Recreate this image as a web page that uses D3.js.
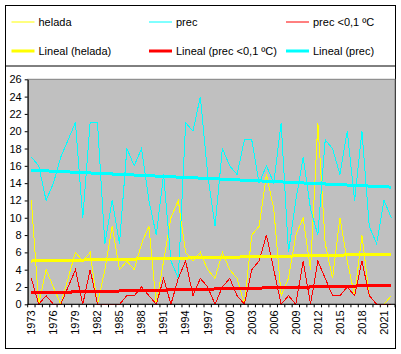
<!DOCTYPE html>
<html lang="es">
<head>
<meta charset="UTF-8">
<title>helada / prec</title>
<script src="https://d3js.org/d3.v7.min.js"></script>
<style>
  body { margin: 0; background: #fff; }
  text { font-family: "Liberation Sans", Arial, sans-serif; font-size: 11px; fill: #000; }
</style>
</head>
<body>
<script>
    const width = 401;
    const height = 354;

    // data
    const years = [1973,1974,1975,1976,1977,1978,1979,1980,1981,1982,
                   1983,1984,1985,1986,1987,1988,1989,1990,1991,1992,
                   1993,1994,1995,1996,1997,1998,1999,2000,2001,2002,
                   2003,2004,2005,2006,2007,2008,2009,2010,2011,2012,
                   2013,2014,2015,2016,2017,2018,2019,2020,2021,2022];
    const helada = [12,0,4,2,0,3,6,5,6,0,
                    4,9,4,5,4,7,9,0,5,10,
                    12,6,5,6,4,3,6,4,3,0,
                    8,9,15,11,1,3,8,10,4,21,
                    7,3,10,5,1,8,1,0,0,1];
    const prec = [17,16,12,14,17,19,21,10,21,21,
                  7,12,7,18,16,18,12,8,15,5,
                  3,21,20,24,15,9,18,16,15,19,
                  19,14,16,14,21,6,12,17,11,8,
                  19,18,15,20,12,20,9,7,12,10];
    const precBajo = [3,0,1,0,0,2,4,0,4,0,
                      0,0,0,1,1,2,1,0,3,0,
                      3,5,1,3,2,0,2,3,1,0,
                      4,5,8,4,0,1,0,5,0,5,
                      3,1,1,2,1,5,1,0,0,0];
    const tickYears = [1973,1976,1979,1982,1985,1988,1991,1994,1997,2000,2003,2006,2009,2012,2015,2018,2021];
    const yTicks = [0,2,4,6,8,10,12,14,16,18,20,22,24,26];

    const svg = d3.select("body").append("svg")
            .attr("width", width).attr("height", height);

    const plot = {left: 27.7, right: 395, top: 79.3, bottom: 304.3};

    const x = d3.scaleBand().domain(years).range([plot.left, plot.right]);
    const y = d3.scaleLinear().domain([0, 26]).range([plot.bottom, plot.top]);
    const cx = d => x(d) + x.bandwidth() / 2;

    // outer frame + legend box
    svg.append("rect")
            .attr("x", 5.5).attr("y", 5.5)
            .attr("width", 390).attr("height", 343)
            .style("fill", "#fff").style("stroke", "#000");
    svg.append("rect")
            .attr("x", 5.5).attr("y", 5.5)
            .attr("width", 390).attr("height", 60.5)
            .style("fill", "none").style("stroke", "#000");

    // plot area
    svg.append("rect")
            .attr("x", plot.left).attr("y", plot.top)
            .attr("width", plot.right - plot.left).attr("height", plot.bottom - plot.top)
            .style("fill", "#c0c0c0").style("stroke", "#808080");

    // series
    const series = [
        {name: "helada", values: helada, color: "#ffff00"},
        {name: "prec", values: prec, color: "#00ffff"},
        {name: "prec <0,1 ºC", values: precBajo, color: "#ff0000"}
    ];

    const line = d3.line()
            .x((d, i) => cx(years[i]))
            .y(d => y(d));

    series.forEach(s => {
        svg.append("path")
                .datum(s.values)
                .attr("d", line)
                .style("fill", "none")
                .style("stroke", s.color)
                .style("stroke-width", 1)
                .style("shape-rendering", "crispEdges");
    });

    // linear trends (least squares)
    function fit(vals) {
        const n = vals.length;
        const mx = d3.mean(vals, (d, i) => i);
        const my = d3.mean(vals);
        let sxy = 0, sxx = 0;
        vals.forEach((v, i) => { sxy += (i - mx) * (v - my); sxx += (i - mx) * (i - mx); });
        const b = sxy / sxx;
        const a = my - b * mx;
        return [a, a + b * (n - 1)];
    }

    const trends = [
        {values: helada, color: "#ffff00"},
        {values: precBajo, color: "#ff0000"},
        {values: prec, color: "#00ffff"}
    ];
    trends.forEach(t => {
        const ends = fit(t.values);
        svg.append("line")
                .attr("x1", cx(years[0])).attr("y1", y(ends[0]))
                .attr("x2", cx(years[years.length - 1])).attr("y2", y(ends[1]))
                .style("stroke", t.color)
                .style("stroke-width", 3)
                .style("shape-rendering", "crispEdges");
    });

    // y axis
    const yAxis = svg.append("g")
            .attr("transform", `translate(${plot.left},0)`)
            .call(d3.axisLeft(y).tickValues(yTicks).tickSize(3).tickSizeOuter(0).tickPadding(3));
    yAxis.select(".domain").style("stroke", "#000");
    yAxis.selectAll("text").style("font-size", "11px").style("font-family", "Liberation Sans, Arial, sans-serif");

    // x axis: ticks between categories, labels every third year
    const xAxis = svg.append("g")
            .attr("transform", `translate(0,${plot.bottom})`);
    xAxis.append("line")
            .attr("x1", plot.left).attr("x2", plot.right)
            .style("stroke", "#000");
    xAxis.selectAll("line.tick")
            .data(years.concat([null]))
            .enter().append("line")
            .attr("class", "tick")
            .attr("x1", (d, i) => plot.left + i * x.step())
            .attr("x2", (d, i) => plot.left + i * x.step())
            .attr("y1", 0).attr("y2", 3)
            .style("stroke", "#000");
    xAxis.selectAll("text")
            .data(tickYears)
            .enter().append("text")
            .attr("transform", d => `translate(${cx(d)},6) rotate(-90)`)
            .attr("dy", "0.35em")
            .style("text-anchor", "end")
            .text(d => d);

    // legend
    const legend = [
        {label: "helada", color: "#ffff00", w: 1, col: 0, row: 0},
        {label: "prec", color: "#00ffff", w: 1, col: 1, row: 0},
        {label: "prec <0,1 ºC", color: "#ff0000", w: 1, col: 2, row: 0},
        {label: "Lineal (helada)", color: "#ffff00", w: 3, col: 0, row: 1},
        {label: "Lineal (prec <0,1 ºC)", color: "#ff0000", w: 3, col: 1, row: 1},
        {label: "Lineal (prec)", color: "#00ffff", w: 3, col: 2, row: 1}
    ];
    const colX = [11.5, 149, 286];
    const rowY = [22, 51];

    const item = svg.selectAll("g.legend")
            .data(legend)
            .enter().append("g")
            .attr("class", "legend")
            .attr("transform", d => `translate(${colX[d.col]},${rowY[d.row]})`);
    item.append("line")
            .attr("x1", 0).attr("x2", 23)
            .style("stroke", d => d.color)
            .style("stroke-width", d => d.w);
    item.append("text")
            .attr("x", 27).attr("dy", "0.35em")
            .text(d => d.label);
</script>
</body>
</html>
